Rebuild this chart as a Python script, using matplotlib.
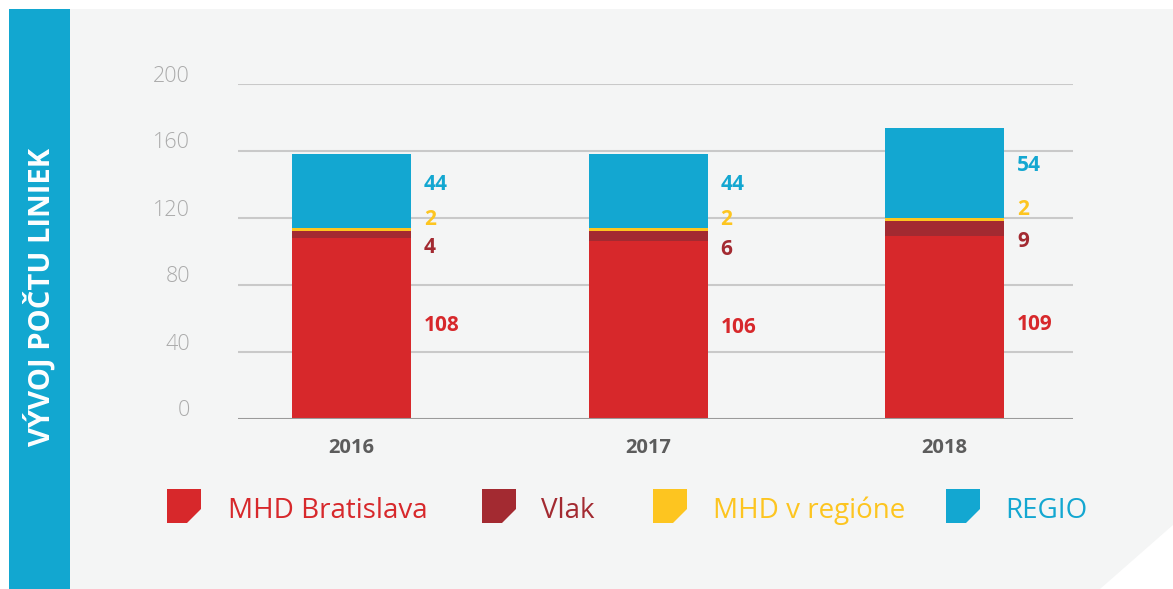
import matplotlib
matplotlib.use("Agg")
import matplotlib.pyplot as plt
from matplotlib.patches import Polygon, Rectangle
import numpy as np

years = ["2016", "2017", "2018"]
series_names = ["MHD Bratislava", "Vlak", "MHD v regióne", "REGIO"]
mhd_bratislava = [108, 106, 109]
vlak = [4, 6, 9]
mhd_region = [2, 2, 2]
regio = [44, 44, 54]
y_ticks = [0, 40, 80, 120, 160, 200]
title = "VÝVOJ POČTU LINIEK"

colors = ["#d7282b", "#a32a31", "#fdc520", "#13a7d1"]
label_offsets = [3, -13, 10, 7]  # px offsets of value labels from segment middles

plt.rcParams['font.family'] = ['Open Sans', 'DejaVu Sans']

W, H = 1173, 589
fig = plt.figure(figsize=(W / 100, H / 100), dpi=100)
fig.patch.set_facecolor("white")

def fx(x):
    return x / W

def fy(y):
    return 1 - y / H

# background panel with cut corner
panel = Polygon([(fx(70), fy(9)), (fx(1173), fy(9)), (fx(1173), fy(525)),
                 (fx(1100), fy(589)), (fx(70), fy(589))],
                closed=True, transform=fig.transFigure, facecolor="#f4f5f5",
                edgecolor="none", zorder=-10)
fig.patches.append(panel)
strip = Rectangle((fx(9), fy(589)), fx(70) - fx(9), fy(9) - fy(589),
                  transform=fig.transFigure, facecolor="#12a7d0", edgecolor="none", zorder=-9)
fig.patches.append(strip)
fig.text(fx(40), fy(297), title, rotation=90, color="white", fontsize=21,
         fontweight="bold", ha="center", va="center")

ax = fig.add_axes([fx(238), fy(419), fx(1073) - fx(238), fy(84) - fy(419)])
ax.set_zorder(2)
ax.set_facecolor("none")
x = np.arange(len(years))
data = [mhd_bratislava, vlak, mhd_region, regio]
bottom = np.zeros(len(years))
bw = 0.401
for vals, c, off in zip(data, colors, label_offsets):
    vals = np.array(vals, dtype=float)
    ax.bar(x, vals, bw, bottom=bottom, color=c, zorder=3, linewidth=0)
    for xi, b, v in zip(x, bottom, vals):
        ax.annotate(f"{int(v)}", (xi + bw / 2, b + v / 2), xytext=(13, off),
                    textcoords="offset pixels", color=c, fontsize=15,
                    fontweight="bold", ha="left", va="center", zorder=4)
    bottom += vals

ax.set_xlim(-0.383, 2.433)
ax.set_ylim(0, 200)
for t in y_ticks:
    if t > 0:
        ax.axhline(t, color="#c9c9c9", linewidth=1.5, zorder=1)
    ax.annotate(str(t), (0, t), xycoords=("axes fraction", "data"), xytext=(-48, 8),
                textcoords="offset pixels", ha="right", va="center",
                color="#ababab", fontsize=15.5, fontweight="light",
                annotation_clip=False)
ax.axhline(0, color="#9a9a9a", linewidth=1.5, zorder=5)
for s in ax.spines.values():
    s.set_visible(False)
ax.set_yticks([])
ax.set_xticks(x)
ax.set_xticklabels(years, fontsize=14.5, fontweight="bold", color="#5c5c5c")
ax.tick_params(axis="x", length=0, pad=14)

# legend
legend_x = [167, 482, 653, 946]
text_x = [228, 541, 713, 1005]
ly = 506
s = 34
cut = 14
for lx, tx, c, name in zip(legend_x, text_x, colors, series_names):
    pts = [(lx, ly - s / 2), (lx + s, ly - s / 2), (lx + s, ly + s / 2 - cut),
           (lx + s - cut, ly + s / 2), (lx, ly + s / 2)]
    fig.patches.append(Polygon([(fx(a), fy(b)) for a, b in pts], closed=True,
                               transform=fig.transFigure, facecolor=c,
                               edgecolor="none", zorder=-5))
    fig.text(fx(tx), fy(ly + 5), name, color=c, fontsize=20, ha="left", va="center")

fig.savefig("out.png", dpi=100, facecolor="white")
